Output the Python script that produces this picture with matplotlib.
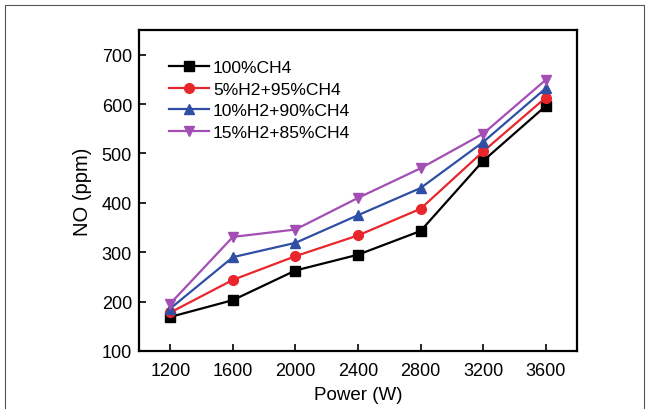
import matplotlib
matplotlib.use("Agg")
import matplotlib.pyplot as plt
from matplotlib.patches import Rectangle

plt.rcParams['font.family'] = ['Liberation Sans', 'DejaVu Sans']

power = [1200, 1600, 2000, 2400, 2800, 3200, 3600]
labels = ["100%CH4", "5%H2+95%CH4", "10%H2+90%CH4", "15%H2+85%CH4"]
no_ch4 = [169, 203, 263, 295, 343, 485, 596]
no_h2_5 = [178, 244, 292, 334, 388, 504, 613]
no_h2_10 = [186, 290, 319, 375, 430, 523, 632]
no_h2_15 = [196, 331, 346, 410, 470, 540, 649]
series = [no_ch4, no_h2_5, no_h2_10, no_h2_15]
colors = ["#000000", "#E8262B", "#2F4FA5", "#A24EB4"]
markers = ["s", "o", "^", "v"]
yticks = [100, 200, 300, 400, 500, 600, 700]

fig = plt.figure(figsize=(6.49, 4.10), dpi=100)
ax = fig.add_axes([139/649, 1 - 352/410, (577 - 139)/649, (352 - 31)/410])

for vals, lab, c, m in zip(series, labels, colors, markers):
    ax.plot(power, vals, color=c, marker=m, markersize=7, linewidth=1.6, label=lab)

ax.set_xlim(1000, 3800)
ax.set_ylim(100, 750)
ax.set_xticks(power)
ax.set_yticks(yticks)
ax.tick_params(direction='in', length=5, width=1.2, labelsize=13, top=False, right=False)
ax.tick_params(axis='x', pad=8)
ax.tick_params(axis='y', pad=5)
for s in ax.spines.values():
    s.set_linewidth(1.6)
ax.set_xlabel("Power (W)", fontsize=13.5, labelpad=5)
ax.set_ylabel("NO (ppm)", fontsize=14.5, labelpad=7)

leg = ax.legend(loc='upper left', bbox_to_anchor=(0.052, 0.928), frameon=False,
                fontsize=12.6, handlelength=2.3, handletextpad=0.23, labelspacing=0.36,
                borderaxespad=0)

fig.patches.append(Rectangle((5/649, -0.1), (644 - 5)/649, 1.1 - 6/410, transform=fig.transFigure,
                             fill=False, edgecolor='#555555', linewidth=0.8))

fig.savefig("out.png", dpi=100)
